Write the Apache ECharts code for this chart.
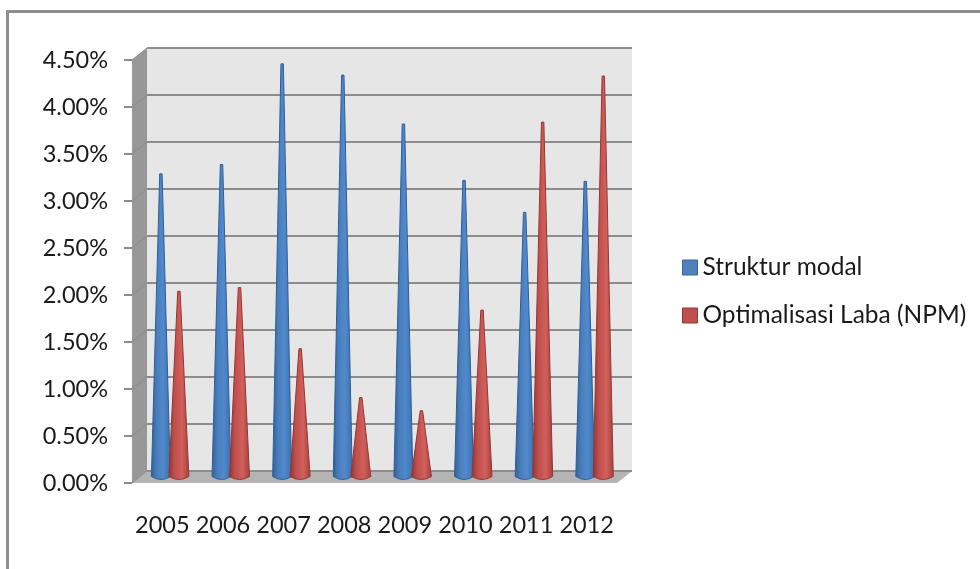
<!DOCTYPE html>
<html>
<head>
<meta charset="utf-8">
<style>
html, body { margin: 0; padding: 0; background: #fff; }
#chart { width: 980px; height: 569px; }
</style>
<script src="https://cdn.jsdelivr.net/npm/echarts@6/dist/echarts.min.js"></script>
</head>
<body>
<div id="chart"></div>
<script>
var years = ['2005', '2006', '2007', '2008', '2009', '2010', '2011', '2012']
var strukturModal = [3.22, 3.32, 4.39, 4.27, 3.75, 3.15, 2.81, 3.14]
var optimalisasiLaba = [1.97, 2.01, 1.36, 0.84, 0.7, 1.77, 3.77, 4.26]

var fontName = 'Lato'
var textColor = '#1a1a1a'

function shade(stops) {
  return new echarts.graphic.LinearGradient(0, 0, 1, 0, stops)
}
var blue = shade([
  { offset: 0, color: '#2f5f97' },
  { offset: 0.3, color: '#4a7ebb' },
  { offset: 0.6, color: '#5089cd' },
  { offset: 1, color: '#3d6fab' }
])
var red = shade([
  { offset: 0, color: '#8f3432' },
  { offset: 0.3, color: '#c0504d' },
  { offset: 0.65, color: '#d25f5b' },
  { offset: 1, color: '#a23f3c' }
])

// one cone: flat small tip, straight sides, curved foot
function coneRenderer(offset, halfWidth, fill, edge) {
  return function (params, api) {
    var top = api.coord([api.value(0), api.value(1)])
    var foot = api.coord([api.value(0), 0])
    var x = top[0] + offset
    var path = 'M' + (x - 1.2) + ' ' + top[1] +
      ' L' + (x + 1.2) + ' ' + top[1] +
      ' L' + (x + halfWidth) + ' ' + foot[1] +
      ' Q' + x + ' ' + (foot[1] + 6) + ' ' + (x - halfWidth) + ' ' + foot[1] + ' Z'
    return {
      type: 'path',
      shape: { pathData: path },
      style: { fill: fill, stroke: edge, lineWidth: 1 }
    }
  }
}

var chart = echarts.init(document.getElementById('chart'))

// slanted lines on the side wall
var sideLines = []
for (var i = 0; i <= 9; i++) {
  sideLines.push({
    type: 'line',
    shape: { x1: 132, y1: 60 + i * 47, x2: 147, y2: 48 + i * 47 },
    style: { stroke: '#8c8c8c', lineWidth: 1 }
  })
}

chart.setOption({
  animation: false,
  backgroundColor: '#fff',
  textStyle: { fontFamily: fontName },
  graphic: [
    {
      type: 'polyline',
      shape: { points: [[7.5, 569], [7.5, 11.5], [980, 11.5]] },
      style: { stroke: '#8e8e8e', lineWidth: 3, fill: null }
    },
    {
      type: 'polygon',
      shape: { points: [[147, 48], [147, 471], [132, 483], [132, 60]] },
      style: { fill: '#989898' }
    },
    {
      type: 'polygon',
      shape: { points: [[132, 483], [147, 471], [632, 471], [617, 483]] },
      style: { fill: '#b4b4b4' }
    }
  ].concat(sideLines),
  legend: {
    orient: 'vertical',
    left: 677,
    top: 250,
    itemWidth: 15,
    itemHeight: 15,
    itemGap: 23,
    textStyle: { fontFamily: fontName, fontSize: 24.5, color: textColor, padding: [0, 0, 0, 0] },
    data: [
      { name: 'Struktur modal', icon: 'rect', itemStyle: { color: '#4f81bd', borderColor: '#3a6595', borderWidth: 1 } },
      { name: 'Optimalisasi Laba (NPM)', icon: 'rect', itemStyle: { color: '#c0504d', borderColor: '#953735', borderWidth: 1 } }
    ]
  },
  grid: [
    // front edge, carries ticks and labels
    { left: 132, top: 60, width: 485, height: 423 },
    // back wall
    { left: 147, top: 48, width: 485, height: 423, show: true, backgroundColor: '#e6e6e6', borderWidth: 0 },
    // plane the cones stand on
    { left: 139.6, top: 53.5, width: 485, height: 423 }
  ],
  xAxis: [
    {
      gridIndex: 0,
      type: 'category',
      data: years,
      axisLine: { show: false },
      axisTick: { length: 9, lineStyle: { color: '#8c8c8c', width: 2 } },
      axisLabel: { fontFamily: fontName, fontSize: 23.5, color: textColor, margin: 30, interval: 0, hideOverlap: false }
    },
    { gridIndex: 1, type: 'category', data: years, show: false },
    { gridIndex: 2, type: 'category', data: years, show: false }
  ],
  yAxis: [
    {
      gridIndex: 0,
      type: 'value',
      min: 0,
      max: 4.5,
      interval: 0.5,
      axisLine: { show: false },
      axisTick: { show: true, length: 8, lineStyle: { color: '#8c8c8c', width: 2 } },
      splitLine: { show: false },
      axisLabel: {
        fontFamily: fontName,
        fontSize: 23.5,
        color: textColor,
        margin: 24,
        formatter: function (v) { return v.toFixed(2) + '%' }
      }
    },
    {
      gridIndex: 1,
      type: 'value',
      min: 0,
      max: 4.5,
      interval: 0.5,
      axisLine: { show: false },
      axisTick: { show: false },
      axisLabel: { show: false },
      splitLine: { show: true, lineStyle: { color: '#8c8c8c', width: 2 } }
    },
    { gridIndex: 2, type: 'value', min: 0, max: 4.5, interval: 0.5, show: false }
  ],
  series: [
    {
      name: 'Struktur modal',
      type: 'custom',
      xAxisIndex: 2,
      yAxisIndex: 2,
      data: strukturModal.map(function (v, i) { return [i, v] }),
      encode: { x: 0, y: 1 },
      renderItem: coneRenderer(-9, 9.5, blue, '#2f5f97'),
      itemStyle: { color: '#4f81bd' },
      clip: false,
      z: 3
    },
    {
      name: 'Optimalisasi Laba (NPM)',
      type: 'custom',
      xAxisIndex: 2,
      yAxisIndex: 2,
      data: optimalisasiLaba.map(function (v, i) { return [i, v] }),
      encode: { x: 0, y: 1 },
      renderItem: coneRenderer(9, 10, red, '#953735'),
      itemStyle: { color: '#c0504d' },
      clip: false,
      z: 4
    }
  ]
})
</script>
</body>
</html>
